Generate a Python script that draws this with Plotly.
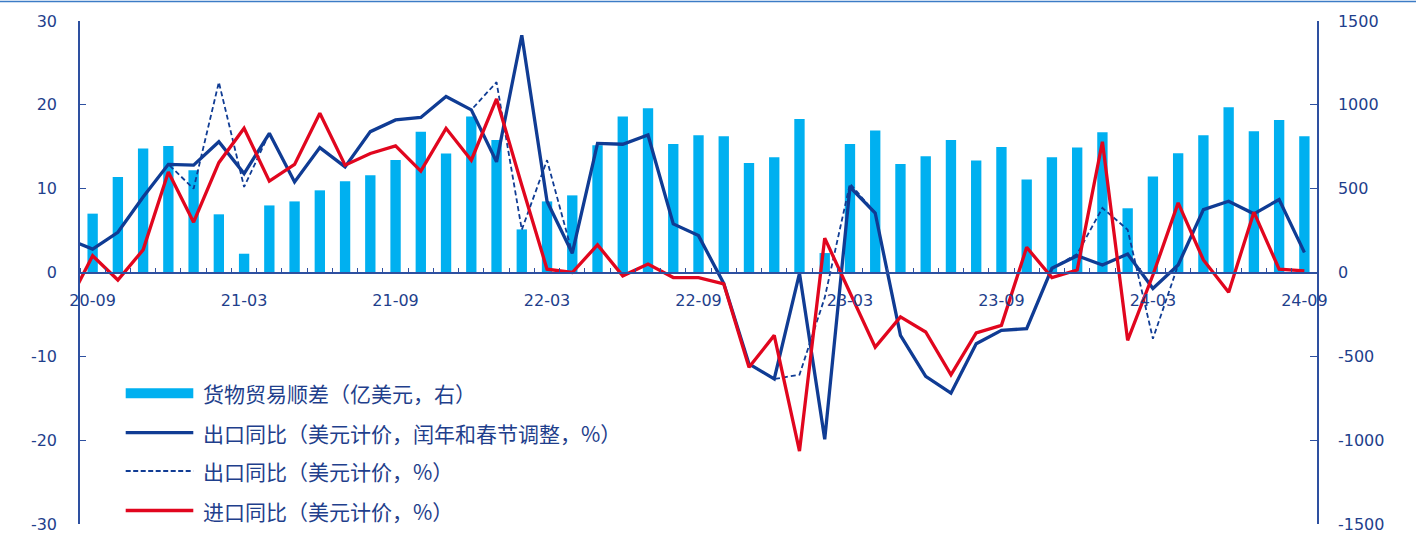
import plotly.graph_objects as go
import pandas as pd

# ---------------- data ----------------
# months (first one, 2020-08, lies just left of the visible axis range; lines are clipped there)
months = [d.strftime("%y-%m") for d in pd.date_range("2020-08-01", "2024-09-01", freq="MS")]
tick_labels = ["20-09", "21-03", "21-09", "22-03", "22-09", "23-03", "23-09", "24-03", "24-09"]
left_ticks = [-30, -20, -10, 0, 10, 20, 30]
right_ticks = [-1500, -1000, -500, 0, 500, 1000, 1500]

# 货物贸易顺差（亿美元，右）, 2020-09 .. 2024-09
surplus = [351, 570, 739, 755, 610, 347, 112, 400, 424, 490, 544, 580,
           671, 839, 709, 931, 791, 257, 424, 460, 759, 931, 980, 767,
           819, 813, 653, 687, 915, 116, 767, 847, 647, 693, 791, 668,
           749, 554, 687, 745, 837, 383, 572, 711, 819, 986, 843, 909, 813]

# 出口同比（美元计价，闰年和春节调整，%）, 2020-08 .. 2024-09
export_adj = [4.0, 2.8, 4.8, 9.0, 12.9, 12.8, 15.6, 11.8, 16.6, 10.8, 14.9, 12.6,
              16.8, 18.2, 18.5, 21.0, 19.4, 13.2, 28.3, 8.5, 2.3, 15.4, 15.3, 16.4,
              5.8, 4.4, -1.3, -10.9, -12.7, -0.1, -19.9, 10.2, 7.1, -7.5, -12.4, -14.4,
              -8.5, -6.9, -6.7, 0.5, 2.0, 0.9, 2.2, -1.9, 0.9, 7.5, 8.5, 7.0, 8.7, 2.4]

# 出口同比（美元计价，%）
export_yoy = [4.0, 2.8, 4.8, 9.0, 12.9, 10.0, 22.7, 10.2, 16.6, 10.8, 14.9, 12.6,
              16.8, 18.2, 18.5, 21.0, 19.4, 22.7, 5.1, 13.4, 2.3, 15.4, 15.3, 16.4,
              5.8, 4.4, -1.3, -10.9, -12.7, -12.2, -3.0, 10.6, 7.1, -7.5, -12.4, -14.4,
              -8.5, -6.9, -6.7, 0.5, 2.2, 7.7, 5.1, -7.9, 0.9, 7.5, 8.5, 7.0, 8.7, 2.4]

# 进口同比（美元计价，%）
import_yoy = [-3.9, 2.0, -0.9, 2.7, 12.0, 6.0, 13.1, 17.2, 10.9, 12.9, 19.0, 12.8,
              14.2, 15.1, 12.1, 17.2, 13.4, 20.7, 10.4, 0.4, 0.0, 3.3, -0.4, 1.0,
              -0.6, -0.6, -1.35, -11.3, -7.5, -21.3, 4.1, -2.4, -8.9, -5.3, -7.1, -12.2,
              -7.2, -6.3, 3.0, -0.6, 0.3, 15.6, -8.1, -0.3, 8.3, 1.5, -2.35, 7.2, 0.4, 0.2]

names = ["货物贸易顺差（亿美元，右）",
         "出口同比（美元计价，闰年和春节调整，%）",
         "出口同比（美元计价，%）",
         "进口同比（美元计价，%）"]

# ---------------- styles ----------------
W, H = 1416, 538
L, R, T, B = 80, 99, 21, 14
PW, PH = W - L - R, H - T - B

C_BAR = "#00B0F0"
C_BLUE = "#103C94"
C_RED = "#E1061E"
C_AXIS = "#2E50A0"
C_TEXT = "#1F3F8C"
NUM_FONT = dict(family="DejaVu Sans", size=16, color=C_TEXT)
CJK_FONT = dict(family="Noto Sans CJK SC", size=21, color=C_TEXT)

pos = {m: i - 1 for i, m in enumerate(months)}
x_all = [pos[m] for m in months]
x_bar = x_all[1:]
tickvals = [pos[t] for t in tick_labels]
major_bounds = [v - 0.5 for v in tickvals]
minor_bounds = [i - 0.5 for i in range(0, len(months))]
xrange = [-0.5, len(months) - 1.5]

fig = go.Figure()
fig.add_trace(go.Bar(x=x_bar, y=surplus, name=names[0], marker=dict(color=C_BAR, line=dict(width=0)),
                     xaxis="x", yaxis="y", showlegend=False))
fig.add_trace(go.Scatter(x=x_all, y=export_adj, name=names[1], mode="lines",
                         line=dict(color=C_BLUE, width=3.3), xaxis="x", yaxis="y2", showlegend=False))
fig.add_trace(go.Scatter(x=x_all, y=export_yoy, name=names[2], mode="lines",
                         line=dict(color=C_BLUE, width=1.8, dash="5px,3px"), xaxis="x", yaxis="y2",
                         showlegend=False))
fig.add_trace(go.Scatter(x=x_all, y=import_yoy, name=names[3], mode="lines",
                         line=dict(color=C_RED, width=3.3), xaxis="x", yaxis="y2", showlegend=False))

# ---------- manual legend (wide swatches as in the original) ----------
def px_x(p):
    return (p - L) / PW

def px_y(p):
    return (H - B - p) / PH

rows = [393.3, 432.7, 471.0, 510.5]
sx0, sx1, tx = 125.7, 193.3, 200.5
shapes = []
shapes.append(dict(type="rect", xref="paper", yref="paper", x0=px_x(sx0), x1=px_x(sx1),
                   y0=px_y(rows[0] + 5), y1=px_y(rows[0] - 5), fillcolor=C_BAR, line=dict(width=0)))
shapes.append(dict(type="line", xref="paper", yref="paper", x0=px_x(sx0), x1=px_x(sx1),
                   y0=px_y(rows[1]), y1=px_y(rows[1]), line=dict(color=C_BLUE, width=3.3)))
shapes.append(dict(type="line", xref="paper", yref="paper", x0=px_x(sx0), x1=px_x(sx1),
                   y0=px_y(rows[2]), y1=px_y(rows[2]), line=dict(color=C_BLUE, width=1.8, dash="5px,2.5px")))
shapes.append(dict(type="line", xref="paper", yref="paper", x0=px_x(sx0), x1=px_x(sx1),
                   y0=px_y(rows[3]), y1=px_y(rows[3]), line=dict(color=C_RED, width=3.3)))
# top border line
shapes.append(dict(type="line", xref="paper", yref="paper", x0=px_x(0), x1=px_x(W),
                   y0=px_y(1.5), y1=px_y(1.5), line=dict(color="#3C7CC6", width=1.5)))

annotations = [dict(xref="paper", yref="paper", x=px_x(tx), y=px_y(r), text=n, showarrow=False,
                    xanchor="left", yanchor="middle", font=CJK_FONT)
               for r, n in zip(rows, names)]

fig.update_layout(
    width=W, height=H,
    margin=dict(l=L, r=R, t=T, b=B, pad=0, autoexpand=False),
    paper_bgcolor="white", plot_bgcolor="white",
    bargap=0.59,
    showlegend=False,
    shapes=shapes,
    annotations=annotations,
    xaxis=dict(range=xrange, tickmode="array", tickvals=tickvals, ticktext=tick_labels,
               ticks="", showline=True, linecolor=C_AXIS, linewidth=1.5,
               anchor="free", position=0.5, showgrid=False, zeroline=False, automargin=False,
               tickfont=NUM_FONT, ticklabelstandoff=14,
               minor=dict(tickmode="array", tickvals=minor_bounds, ticks="inside", ticklen=4,
                          tickwidth=1.2, tickcolor=C_AXIS, showgrid=False)),
    xaxis2=dict(range=xrange, overlaying="x", anchor="free", position=0.5, side="bottom",
                tickmode="array", tickvals=major_bounds, ticks="outside", ticklen=7,
                tickwidth=1.2, tickcolor=C_AXIS, showticklabels=False, showline=False,
                showgrid=False, zeroline=False, automargin=False),
    yaxis=dict(range=[-1500, 1500], tickmode="array", tickvals=right_ticks,
               ticktext=[str(v) for v in right_ticks],
               side="right", ticks="inside", ticklen=7, tickwidth=1.2, tickcolor=C_AXIS,
               showline=True, linecolor=C_AXIS, linewidth=1.5, showgrid=False, zeroline=False,
               automargin=False, tickfont=NUM_FONT, ticklabelstandoff=16),
    yaxis2=dict(range=[-30, 30], tickmode="array", tickvals=left_ticks,
                ticktext=[str(v) for v in left_ticks],
                overlaying="y", side="left", anchor="x", ticks="inside", ticklen=6, tickwidth=1.2,
                tickcolor=C_AXIS, showline=True, linecolor=C_AXIS, linewidth=1.5,
                showgrid=False, zeroline=False, automargin=False, tickfont=NUM_FONT,
                ticklabelstandoff=18),
)

fig.write_html("out.html")
